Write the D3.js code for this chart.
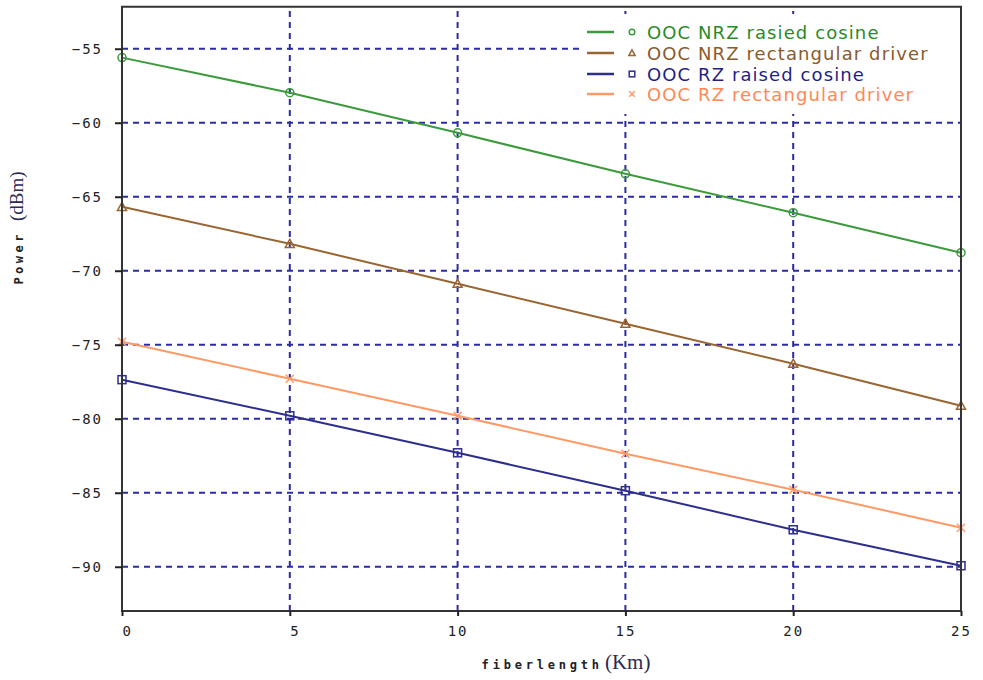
<!DOCTYPE html>
<html><head><meta charset="utf-8">
<script src="https://cdn.jsdelivr.net/npm/d3@7"></script>
<style>body{margin:0;background:#fff}svg{display:block}</style>
</head><body>
<svg id="c" width="983" height="680"></svg>
<script>
const xValues = [0, 5, 10, 15, 20, 25];
const seriesNames = ["OOC NRZ rasied cosine", "OOC NRZ rectangular driver", "OOC RZ raised cosine", "OOC RZ rectangular driver"];
const nrzRaised = [-55.6, -57.97, -60.68, -63.45, -66.08, -68.78];
const nrzRect = [-65.68, -68.18, -70.88, -73.58, -76.28, -79.12];
const rzRaised = [-77.36, -79.8, -82.3, -84.86, -87.5, -89.93];
const rzRect = [-74.8, -77.3, -79.8, -82.36, -84.8, -87.36];
const xTicks = [0, 5, 10, 15, 20, 25];
const yTicks = [-55, -60, -65, -70, -75, -80, -85, -90];

const lineColors = ["#3c9a3c", "#996633", "#2e2e8c", "#ff9966"];
const textColors = ["#2a8a2a", "#8b5a2b", "#1f1f85", "#ff8855"];
const markers = ["circle", "triangle", "square", "cross"];
const series = [nrzRaised, nrzRect, rzRaised, rzRect];

const svg = d3.select("#c");
const L = 122, R = 961, T = 6.7, B = 611;
const x = d3.scaleLinear().domain([0, 25]).range([L, R]);
const y = d3.scaleLinear().domain([-92.99, -52.16]).range([B, T]);

// grid
const grid = svg.append("g").attr("stroke", "#2b2ba6").attr("stroke-width", 2).attr("stroke-dasharray", "6,5");
grid.selectAll("line.h").data(yTicks).join("line")
  .attr("x1", L).attr("x2", R).attr("y1", d => y(d)).attr("y2", d => y(d));
grid.selectAll("line.v").data(xTicks.filter(d => d > 0 && d < 25)).join("line")
  .attr("y1", B).attr("y2", T).attr("x1", d => x(d)).attr("x2", d => x(d));

// series
const line = d3.line().x((d, i) => x(xValues[i])).y(d => y(d));
series.forEach((s, k) => {
  svg.append("path").datum(s).attr("d", line).attr("fill", "none")
    .attr("stroke", lineColors[k]).attr("stroke-width", 2);
  const g = svg.append("g");
  s.forEach((v, i) => drawMarker(g, markers[k], x(xValues[i]), y(v), lineColors[k], 1));
});

function drawMarker(g, type, cx, cy, color, scale) {
  if (type === "circle") {
    g.append("circle").attr("cx", cx).attr("cy", cy).attr("r", 4 * scale).attr("fill", "none").attr("stroke", color).attr("stroke-width", 1.5);
  } else if (type === "triangle") {
    const s = 4.5 * scale;
    g.append("path").attr("d", `M${cx},${cy - s}L${cx + s},${cy + s * 0.8}L${cx - s},${cy + s * 0.8}Z`).attr("fill", "none").attr("stroke", color).attr("stroke-width", 1.5);
  } else if (type === "square") {
    const s = 4 * scale;
    g.append("rect").attr("x", cx - s).attr("y", cy - s).attr("width", 2 * s).attr("height", 2 * s).attr("fill", "none").attr("stroke", color).attr("stroke-width", 1.5);
  } else {
    const s = 4 * scale;
    g.append("path").attr("d", `M${cx - s},${cy - s}L${cx + s},${cy + s}M${cx - s},${cy + s}L${cx + s},${cy - s}`).attr("stroke", color).attr("stroke-width", 1.5);
  }
}

// frame
svg.append("path").attr("d", `M${L},${B}L${L},${T}L${R},${T}L${R},${B}Z`).attr("fill", "none").attr("stroke", "#333").attr("stroke-width", 2);

// axes
const monoFont = "'DejaVu Sans Mono', monospace";
const yAxis = svg.append("g").attr("transform", `translate(${L},0)`)
  .call(d3.axisLeft(y).tickValues(yTicks).tickSize(7).tickPadding(12).tickFormat(d => "\u2212" + Math.abs(d)));
const xAxis = svg.append("g").attr("transform", `translate(0,${B})`)
  .call(d3.axisBottom(x).tickValues(xTicks).tickSize(5).tickPadding(10).tickFormat(d => d < 10 ? "\u2007" + d : String(d)));
[yAxis, xAxis].forEach(a => {
  a.select(".domain").remove();
  a.selectAll(".tick line").attr("stroke", "#222").attr("stroke-width", 2);
  a.selectAll(".tick text").attr("fill", "#222").style("font-family", monoFont).style("font-size", "14px").style("letter-spacing", "2px");
});

// axis titles
const xt = svg.append("text").attr("x", 566).attr("y", 669).attr("text-anchor", "middle").attr("fill", "#222");
xt.append("tspan").text("fiberlength").style("font-family", monoFont).style("font-weight", "bold").style("font-size", "12px").style("letter-spacing", "3.8px");
xt.append("tspan").attr("dx", 2).text("(Km)").style("font-family", "'Liberation Serif', serif").style("font-size", "21px").attr("fill", "#2a2a55");

const yt = svg.append("text").attr("transform", "translate(23,228) rotate(-90)").attr("text-anchor", "middle").attr("fill", "#222");
yt.append("tspan").text("Power").style("font-family", monoFont).style("font-weight", "bold").style("font-size", "12px").style("letter-spacing", "3.5px");
yt.append("tspan").attr("dx", 10).text("(dBm)").style("font-family", "'Liberation Serif', serif").style("font-size", "19px").attr("fill", "#2a2a55");

// legend
const lg = svg.append("g");
lg.append("rect").attr("x", 580).attr("y", 14).attr("width", R - 581).attr("height", 100).attr("fill", "#fff");
const rowY = [32, 53, 74, 94];
seriesNames.forEach((n, k) => {
  lg.append("line").attr("x1", 587).attr("x2", 614).attr("y1", rowY[k]).attr("y2", rowY[k]).attr("stroke", lineColors[k]).attr("stroke-width", 2.5);
  drawMarker(lg, markers[k], 632, rowY[k], lineColors[k], 0.7);
  lg.append("text").attr("x", 647).attr("y", rowY[k] + 6.5).text(n).attr("fill", textColors[k])
    .style("font-family", "'DejaVu Sans', sans-serif").style("font-size", "18px").style("letter-spacing", "1.1px");
});
</script>
</body></html>
